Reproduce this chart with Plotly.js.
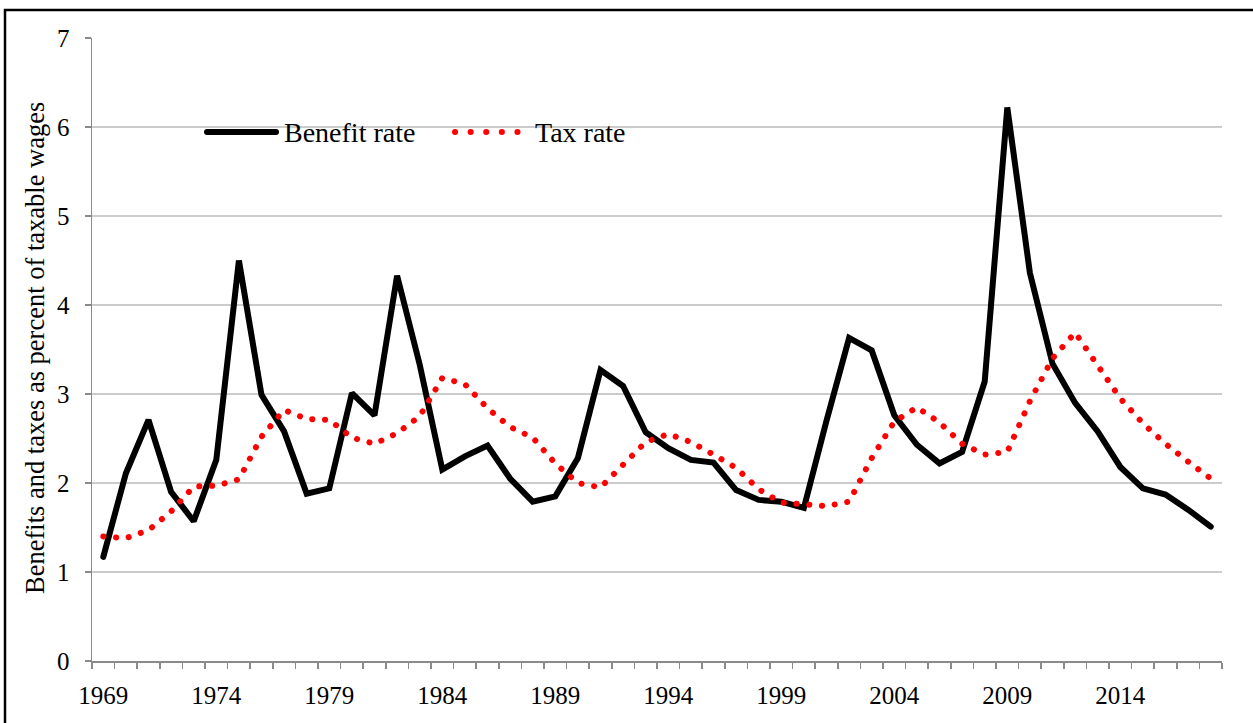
<!DOCTYPE html>
<html>
<head>
<meta charset="utf-8">
<script src="https://cdn.plot.ly/plotly-3.0.1.min.js"></script>
<style>
  html, body { margin: 0; padding: 0; background: #ffffff; }
  #chart { width: 1253px; height: 723px; }
  .scatterlayer .trace path.js-line { stroke-linecap: round; }
  .shapelayer path.legline { stroke-linecap: round; }
</style>
</head>
<body>
<div id="chart"></div>
<script>
// ---- data ----
const years = [1969,1970,1971,1972,1973,1974,1975,1976,1977,1978,1979,1980,1981,1982,1983,1984,1985,1986,1987,1988,1989,1990,1991,1992,1993,1994,1995,1996,1997,1998,1999,2000,2001,2002,2003,2004,2005,2006,2007,2008,2009,2010,2011,2012,2013,2014,2015,2016,2017,2018];
const benefitRate = [1.17,2.11,2.71,1.90,1.57,2.26,4.50,2.99,2.58,1.88,1.94,3.01,2.76,4.33,3.33,2.15,2.30,2.42,2.05,1.79,1.85,2.28,3.27,3.09,2.57,2.39,2.26,2.23,1.92,1.81,1.79,1.72,2.70,3.63,3.49,2.76,2.43,2.22,2.35,3.14,6.22,4.36,3.34,2.90,2.58,2.18,1.94,1.87,1.70,1.51];
const taxRate = [1.40,1.38,1.47,1.68,1.96,1.97,2.04,2.52,2.82,2.72,2.71,2.51,2.44,2.56,2.75,3.18,3.11,2.84,2.63,2.51,2.22,2.00,1.95,2.21,2.46,2.55,2.46,2.32,2.17,1.93,1.78,1.76,1.74,1.79,2.28,2.69,2.85,2.68,2.44,2.32,2.35,2.92,3.40,3.69,3.33,2.95,2.67,2.44,2.24,2.05];
const tickYears = [1969,1974,1979,1984,1989,1994,1999,2004,2009,2014];
const tickLabels = tickYears.map(String);
const seriesNames = ["Benefit rate", "Tax rate"];
const yTitle = "Benefits and taxes as percent of taxable wages";

// ---- layout geometry ----
const W = 1253, H = 723;
const M = {l: 92, r: 31, t: 38, b: 62};
const PW = W - M.l - M.r, PH = H - M.t - M.b;
const px2x = p => (p - M.l) / PW;        // pixel -> paper x
const py2y = p => (H - M.b - p) / PH;    // pixel -> paper y

const FONT = '"Liberation Serif", "Times New Roman", Times, serif';

const traces = [
  {x: years, y: benefitRate, type: 'scatter', mode: 'lines', name: seriesNames[0],
   line: {color: '#000000', width: 6}, showlegend: false, hoverinfo: 'skip'},
  {x: years, y: taxRate, type: 'scatter', mode: 'lines', name: seriesNames[1],
   line: {color: '#ff0000', width: 6, dash: '0.1px,12.7px'}, showlegend: false, hoverinfo: 'skip'}
];

const legY = py2y(132);
const shapes = [
  // outer frame
  {type: 'rect', xref: 'paper', yref: 'paper', x0: px2x(5), x1: px2x(1300), y0: py2y(760), y1: py2y(10),
   line: {color: '#000000', width: 2.5}, fillcolor: 'rgba(0,0,0,0)', layer: 'above'},
  // legend samples
  {type: 'line', xref: 'paper', yref: 'paper', x0: px2x(207), x1: px2x(276), y0: legY, y1: legY,
   line: {color: '#000000', width: 6}},
  {type: 'line', xref: 'paper', yref: 'paper', x0: px2x(455), x1: px2x(518), y0: legY, y1: legY,
   line: {color: '#ff0000', width: 6, dash: '0.1px,15.5px'}}
];

const annotations = [
  {xref: 'paper', yref: 'paper', x: px2x(282), y: legY, xanchor: 'left', yanchor: 'middle',
   text: seriesNames[0], showarrow: false, font: {family: FONT, size: 28, color: '#000000'}},
  {xref: 'paper', yref: 'paper', x: px2x(533), y: legY, xanchor: 'left', yanchor: 'middle',
   text: seriesNames[1], showarrow: false, font: {family: FONT, size: 28, color: '#000000'}},
  // y-axis title
  {xref: 'paper', yref: 'paper', x: px2x(35), y: py2y(348), xanchor: 'center', yanchor: 'middle',
   text: yTitle, textangle: -90, showarrow: false, font: {family: FONT, size: 26.5, color: '#000000'}}
];

const layout = {
  width: W, height: H,
  margin: M,
  paper_bgcolor: '#ffffff', plot_bgcolor: '#ffffff',
  font: {family: FONT, size: 26, color: '#000000'},
  showlegend: false,
  xaxis: {
    range: [1968.5, 2018.5], fixedrange: true,
    tickmode: 'array', tickvals: tickYears, ticktext: tickLabels,
    ticks: '', showgrid: false, zeroline: false,
    showline: true, linecolor: '#8a8a8a', linewidth: 1.5,
    tickfont: {family: FONT, size: 25, color: '#000000'},
    ticklabelstandoff: 11,
    minor: {tickmode: 'linear', tick0: 1968.5, dtick: 1, ticks: 'outside', ticklen: 6,
            tickcolor: '#8a8a8a', tickwidth: 1.5, showgrid: false}
  },
  yaxis: {
    range: [0, 7], fixedrange: true,
    tickmode: 'linear', tick0: 0, dtick: 1,
    ticks: 'outside', ticklen: 6, tickcolor: '#8a8a8a', tickwidth: 1.5,
    showgrid: true, gridcolor: '#cccccc', gridwidth: 1.5,
    zeroline: false,
    showline: true, linecolor: '#8a8a8a', linewidth: 1.5,
    tickfont: {family: FONT, size: 25, color: '#000000'},
    ticklabelstandoff: 10
  },
  shapes: shapes,
  annotations: annotations
};

Plotly.newPlot('chart', traces, layout, {displayModeBar: false, staticPlot: true}).then(() => {
  document.querySelectorAll('.shapelayer path').forEach(p => {
    const d = p.getAttribute('d') || '';
    if (d && !/Z/i.test(d)) p.classList.add('legline');
  });
});
</script>
</body>
</html>
